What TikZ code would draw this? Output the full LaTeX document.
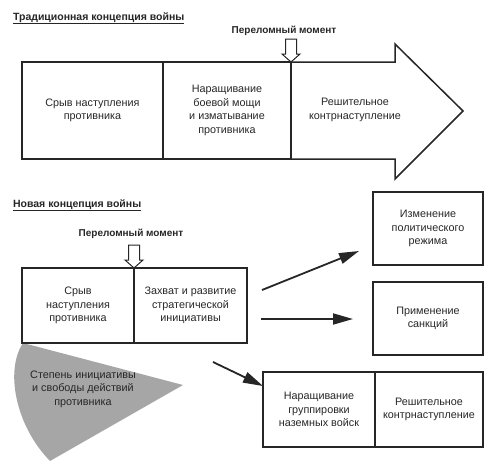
\documentclass[tikz,border=0pt]{standalone}
\usepackage{fontspec}
\setmainfont{Liberation Sans}
\usetikzlibrary{arrows.meta, positioning}

\tikzset{
  pointer/.pic={\draw[fill=white, line width=1pt] (0,0) -- (-9,-8) -- (-5.5,-8) -- (-5.5,-23) -- (5.5,-23) -- (5.5,-8) -- (9,-8) -- cycle;}
}

\begin{document}
\begin{tikzpicture}[x=1pt, y=-1pt, line width=1.5pt, black!85,
    cell/.style={draw, outer sep=0pt, inner sep=0pt, align=center, font=\fontsize{10.8}{13.6}\selectfont},
    txt/.style={align=center, font=\fontsize{10.8}{13.6}\selectfont},
    head/.style={font=\bfseries\fontsize{10.5}{12}\selectfont},
    turnlabel/.style={font=\bfseries\fontsize{10}{12}\selectfont},
    flow/.style={-{Triangle[length=20pt, width=11pt]}, line width=1.8pt}]

\useasboundingbox (0,0) rectangle (484,461);

% Традиционная концепция войны
\node[head, anchor=base west] (trad) at (9,20) {\underline{Традиционная концепция войны}};

% Стрелка с тремя этапами
\node[cell, minimum width=141pt, minimum height=97pt] (srv) at (92.5,110.5) {Срыв наступления\\противника};
\node[cell, minimum width=128pt, minimum height=97pt, right=0pt of srv] (nar) {Наращивание\\боевой мощи\\и изматывание\\противника};
\draw (nar.north east) -- (395,62) -- (395,44) -- (463,111) -- (395,179) -- (395,159) -- (nar.south east);
\node[txt] (kontr) at (355,110) {Решительное\\контрнаступление};

% Переломный момент
\pic at (nar.north east) {pointer};
\node[turnlabel, anchor=base] (perelom) at (284,33) {Переломный момент};

% Новая концепция войны
\node[head, anchor=base west] (nov) at (9,207) {\underline{Новая концепция войны}};

% Серый сектор
\fill[gray!70] (183,385) -- (23,343) .. controls (5,370) and (15,425) .. (50,461) -- cycle;
\node[txt] (step) at (83,389) {Степень инициативы\\и свободы действий\\противника};

% Блок из двух этапов
\node[cell, minimum width=112pt, minimum height=75pt] (srv2) at (78,305.5) {Срыв\\наступления\\противника};
\node[cell, minimum width=113pt, minimum height=75pt, right=0pt of srv2] (zah) {Захват и развитие\\стратегической\\инициативы};
\pic at (srv2.north east) {pointer};
\node[turnlabel, anchor=base] (perelom2) at (131,236) {Переломный момент};

% Правые блоки
\node[cell, minimum width=110pt, minimum height=73pt] (rezh) at (428,228.5) {Изменение\\политического\\режима};
\node[cell, minimum width=110pt, minimum height=73pt] (sank) at (428,318.5) {Применение\\санкций};
\node[cell, minimum width=112pt, minimum height=75pt] (grup) at (319,409.5) {Наращивание\\группировки\\наземных войск};
\node[cell, minimum width=108pt, minimum height=75pt, right=0pt of grup] (kontr2) {Решительное\\контрнаступление};

% Стрелки
\coordinate (a1) at (262,290);
\coordinate (b1) at (359,251);
\coordinate (a2) at (261,319);
\coordinate (b2) at (353,319);
\coordinate (a3) at (213,362);
\coordinate (b3) at (263,386);
\draw[flow] (a1) -- (b1);
\draw[flow] (a2) -- (b2);
\draw[flow] (a3) -- (b3);

\end{tikzpicture}
\end{document}
